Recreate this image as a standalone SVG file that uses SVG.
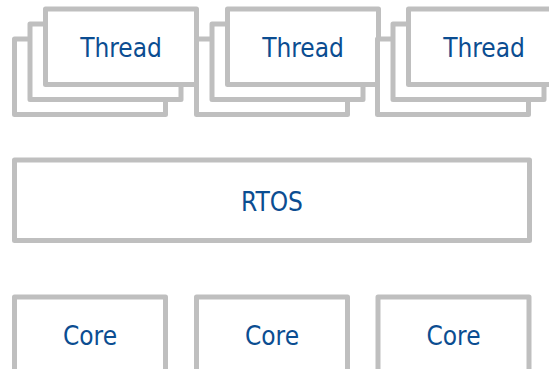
<svg xmlns="http://www.w3.org/2000/svg" width="549" height="369" viewBox="0 0 549 369">
  <style>
    .box { fill: #ffffff; stroke: #bfbfbf; stroke-width: 5; stroke-linejoin: round; }
    .label { font-family: "DejaVu Sans Condensed", "DejaVu Sans", sans-serif; font-stretch: condensed; font-size: 26px; fill: #0b4d91; text-anchor: middle; }
  </style>
  <rect width="549" height="369" fill="#ffffff"/>

  <!-- Thread stacks: three overlapping frames per stack -->
  <g id="thread-1">
    <rect class="box" x="14.5" y="39" width="151" height="75.5"/>
    <rect class="box" x="30" y="24" width="151" height="75.5"/>
    <rect class="box" x="45.5" y="9" width="151" height="75.5"/>
    <text class="label" x="121" y="56.5">Thread</text>
  </g>
  <g id="thread-2">
    <rect class="box" x="196.5" y="39" width="151" height="75.5"/>
    <rect class="box" x="212" y="24" width="151" height="75.5"/>
    <rect class="box" x="227.5" y="9" width="151" height="75.5"/>
    <text class="label" x="303" y="56.5">Thread</text>
  </g>
  <g id="thread-3">
    <rect class="box" x="377.5" y="39" width="151" height="75.5"/>
    <rect class="box" x="393" y="24" width="151" height="75.5"/>
    <rect class="box" x="408.5" y="9" width="151" height="75.5"/>
    <text class="label" x="484" y="56.5">Thread</text>
  </g>

  <!-- Operating system layer -->
  <g id="rtos">
    <rect class="box" x="14.5" y="160" width="515" height="80.5"/>
    <text class="label" x="272" y="211">RTOS</text>
  </g>

  <!-- Processor cores (run off the bottom edge) -->
  <g id="core-1">
    <rect class="box" x="14.5" y="297" width="151" height="100"/>
    <text class="label" x="90" y="345">Core</text>
  </g>
  <g id="core-2">
    <rect class="box" x="196.5" y="297" width="151" height="100"/>
    <text class="label" x="272" y="345">Core</text>
  </g>
  <g id="core-3">
    <rect class="box" x="378" y="297" width="151" height="100"/>
    <text class="label" x="453.5" y="345">Core</text>
  </g>

  <g id="connectors"/>
</svg>
